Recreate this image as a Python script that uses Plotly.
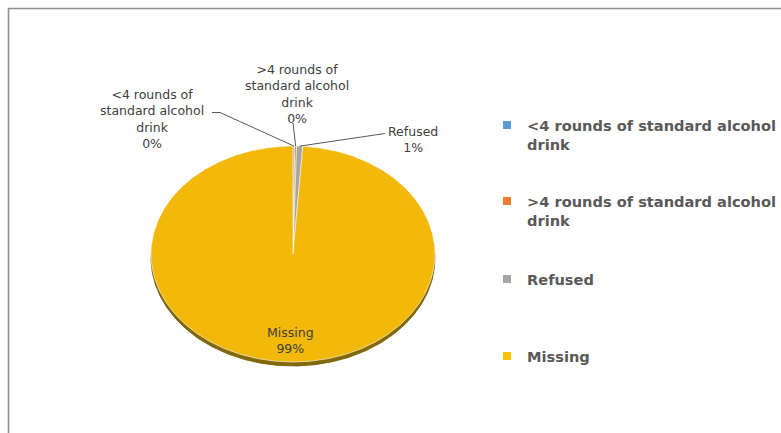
import numpy as np
import plotly.graph_objects as go

# ---------------- data ----------------
categories = ["<4 rounds of standard alcohol drink", ">4 rounds of standard alcohol drink", "Refused", "Missing"]
values = [0.2, 0.2, 0.7, 98.9]
pct_text = ["0%", "0%", "1%", "99%"]
slice_labels = ["<4 rounds of<br>standard alcohol<br>drink", ">4 rounds of<br>standard alcohol<br>drink", "Refused", "Missing"]
legend_labels = ["<4 rounds of standard alcohol<br>drink", ">4 rounds of standard alcohol<br>drink", "Refused", "Missing"]

# ---------------- style ----------------
colors = ["#5B9BD5", "#ED7D31", "#A5A5A5", "#F2B80A"]
legend_colors = ["#5B9BD5", "#ED7D31", "#A5A5A5", "#FFC000"]
W, H = 781, 433
CX, CY, RX, RY = 293, 254, 142, 108   # ellipse (tilted pie) geometry in pixels
DEPTH = 4
LABEL_FONT = dict(family="DejaVu Sans, sans-serif", size=12.5, color="#404040")

fig = go.Figure()

vals = np.array(values, dtype=float)
frac = vals / vals.sum()
edges = np.concatenate([[0.0], np.cumsum(frac)]) * 2 * np.pi


def pt(theta, dy=0.0):
    return CX + RX * np.sin(theta), CY + dy - RY * np.cos(theta)


# 3D rim (side of the tilted pie)
t = np.linspace(0, 2 * np.pi, 721)
rx, ry = pt(t, DEPTH)
fig.add_trace(go.Scatter(x=rx, y=ry, mode="lines", fill="toself", fillcolor="#836805",
                         line=dict(color="#6F5904", width=0.8), hoverinfo="skip", showlegend=False))

# slices
for i in range(len(values)):
    n = max(4, int(np.ceil((edges[i + 1] - edges[i]) / (2 * np.pi) * 720)))
    tt = np.linspace(edges[i], edges[i + 1], n)
    ax, ay = pt(tt)
    xs = np.concatenate([[CX], ax, [CX]])
    ys = np.concatenate([[CY], ay, [CY]])
    fig.add_trace(go.Scatter(x=xs, y=ys, mode="lines", fill="toself", fillcolor=colors[i],
                             line=dict(color="white", width=0.6), name=categories[i],
                             hoverinfo="name", showlegend=False))

# legend entries (one legend each, to match the wide spacing)
legend_tops = [125, 201, 279, 356]
legend_names = ["legend", "legend2", "legend3", "legend4"]
for i in range(len(values)):
    fig.add_trace(go.Scatter(x=[None], y=[None], mode="markers", name=legend_labels[i],
                             marker=dict(symbol="square", size=8, color=legend_colors[i]),
                             legend=legend_names[i], showlegend=True))

# data labels with leader lines
mids = (edges[:-1] + edges[1:]) / 2
label_pos = [(152, 119), (297, 94), (413, 139), (290, 340)]
for i in range(len(values)):
    fig.add_annotation(x=label_pos[i][0], y=label_pos[i][1], xref="x", yref="y",
                       text=f"{slice_labels[i]}<br>{pct_text[i]}", showarrow=False,
                       font=LABEL_FONT, align="center", xanchor="center", yanchor="middle")

leaders = [
    [(212, 112.5), (220, 112.5)],
    [(293, 123)],
    [(385, 133.5)],
]
for i, pts in enumerate(leaders):
    ex, ey = pt(mids[i])
    path_pts = pts + [(float(ex), float(ey))]
    path = "M " + " L ".join(f"{x},{y}" for x, y in path_pts)
    fig.add_shape(type="path", path=path, xref="x", yref="y",
                  line=dict(color="#595959", width=1))

# chart frame
fig.add_shape(type="path", path=f"M 8.5,{H} L 8.5,8.5 L {W},8.5", xref="x", yref="y",
              line=dict(color="#8F8F8F", width=1.6))

legend_common = dict(font=dict(family="DejaVu Sans, sans-serif", size=14.6, color="#595959", weight="bold"),
                     bgcolor="rgba(0,0,0,0)", xanchor="left", yanchor="top", valign="top",
                     itemwidth=30, tracegroupgap=0)
layout_legends = {}
for i, nm in enumerate(legend_names):
    d = dict(legend_common)
    d.update(x=(527 - 40) / W, y=1 - (legend_tops[i] - 16) / H)
    layout_legends[nm] = d

fig.update_layout(
    width=W, height=H,
    margin=dict(l=0, r=0, t=0, b=0),
    paper_bgcolor="white", plot_bgcolor="white",
    xaxis=dict(range=[0, W], visible=False, fixedrange=True),
    yaxis=dict(range=[H, 0], visible=False, fixedrange=True),
    showlegend=True,
    **layout_legends,
)

fig.write_html("out.html", config={"displayModeBar": False},
               post_script="document.body.style.margin='0';document.body.style.padding='0';")
